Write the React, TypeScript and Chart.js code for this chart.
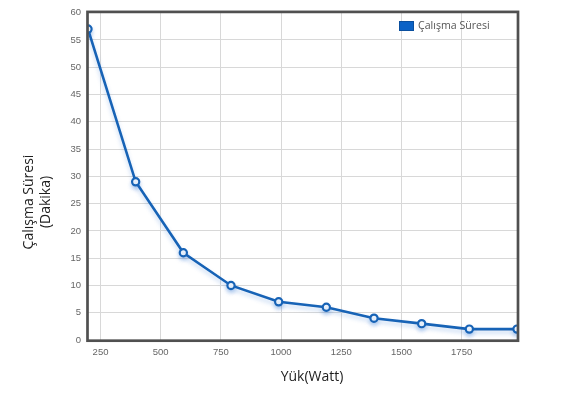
import React, { useEffect, useRef } from "react";
import { Chart, registerables } from "chart.js";

Chart.register(...registerables);

const loadWatts = [198, 396, 594, 792, 990, 1188, 1386, 1584, 1782, 1980];
const durations = [57, 29, 16, 10, 7, 6, 4, 3, 2, 2];
const xTicks = [250, 500, 750, 1000, 1250, 1500, 1750];
const seriesLabel = "Çalışma Süresi";
const xTitle = "Yük(Watt)";
const yTitle = ["Çalışma Süresi", "(Dakika)"];

const LINE = "#1763b6";

const decor = {
  id: "decor",
  beforeDatasetsDraw(chart: any) {
    const ctx = chart.ctx;
    ctx.save();
    ctx.shadowColor = "rgba(40,110,210,0.28)";
    ctx.shadowBlur = 4;
    ctx.shadowOffsetY = 3;
  },
  afterDatasetsDraw(chart: any) {
    chart.ctx.restore();
  },
  afterDraw(chart: any) {
    const ctx = chart.ctx;
    const a = chart.chartArea;
    ctx.save();
    // plot border
    ctx.strokeStyle = "#505050";
    ctx.lineWidth = 2.7;
    ctx.strokeRect(a.left - 0.5, a.top - 0.8, a.right - a.left + 1.5, a.bottom - a.top + 1.5);
    // legend
    ctx.fillStyle = "#0b62c6";
    ctx.fillRect(399, 21, 15, 10);
    ctx.strokeStyle = "#0a4f9e";
    ctx.lineWidth = 1;
    ctx.strokeRect(399.5, 21.5, 14, 9);
    ctx.fillStyle = "#555555";
    ctx.font = "10.6px 'Open Sans'";
    ctx.textAlign = "left";
    ctx.textBaseline = "middle";
    ctx.fillText(seriesLabel, 418, 26);
    // axis titles
    ctx.fillStyle = "#1e1e1e";
    ctx.font = "14px 'Open Sans'";
    ctx.textAlign = "center";
    ctx.textBaseline = "middle";
    ctx.fillText(xTitle, 312, 377);
    ctx.translate(0, 202);
    ctx.rotate(-Math.PI / 2);
    ctx.fillText(yTitle[0], 0, 29);
    ctx.fillText(yTitle[1], 0, 46);
    ctx.restore();
  },
};

export default function App() {
  const ref = useRef<HTMLCanvasElement>(null);
  useEffect(() => {
    const prevMargin = document.body.style.margin;
    document.body.style.margin = "0";
    const chart = new Chart(ref.current!, {
      type: "line",
      data: {
        datasets: [
          {
            label: seriesLabel,
            data: loadWatts.map((x, i) => ({ x, y: durations[i] })),
            borderColor: LINE,
            borderWidth: 2.6,
            backgroundColor: "#ffffff",
            pointBackgroundColor: "#ffffff",
            pointBorderColor: LINE,
            pointBorderWidth: 2.2,
            pointRadius: 3.6,
            tension: 0,
            fill: false,
          },
        ],
      },
      options: {
        responsive: false,
        animation: false,
        events: [],
        layout: { padding: { top: 12, right: 55, left: 0, bottom: 0 } },
        plugins: { legend: { display: false }, tooltip: { enabled: false } },
        scales: {
          x: {
            type: "linear",
            min: loadWatts[0],
            max: loadWatts[loadWatts.length - 1],
            afterBuildTicks: (s: any) => {
              s.ticks = xTicks.map((v) => ({ value: v }));
            },
            afterFit: (s: any) => {
              s.height = 56;
            },
            grid: { color: "#d8d8d8", lineWidth: 1, drawTicks: false },
            border: { display: false },
            ticks: {
              padding: 7,
              color: "#666666",
              font: { family: "'Liberation Sans', Arial", size: 9.5 },
              maxRotation: 0,
              callback: (v: any) => String(v),
            },
          },
          y: {
            min: 0,
            max: 60,
            afterFit: (s: any) => {
              s.width = 88;
            },
            grid: { color: "#d8d8d8", lineWidth: 1, drawTicks: false },
            border: { display: false },
            ticks: {
              stepSize: 5,
              padding: 7,
              color: "#666666",
              font: { family: "'Liberation Sans', Arial", size: 9.5 },
              callback: (v: any) => String(v),
            },
          },
        },
      },
      plugins: [decor],
    });
    return () => {
      chart.destroy();
      document.body.style.margin = prevMargin;
    };
  }, []);
  return (
    <div style={{ position: "absolute", left: 0, top: 0, width: 572, height: 396, background: "#fff" }}>
      <canvas ref={ref} width={572} height={396} style={{ display: "block" }} />
    </div>
  );
}
